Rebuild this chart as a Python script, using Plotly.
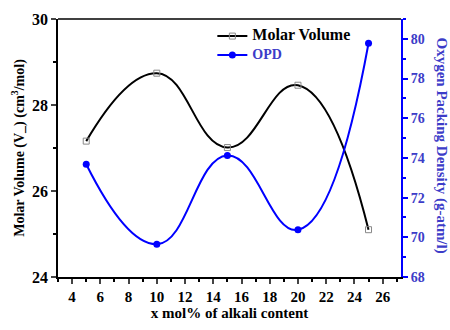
import plotly.graph_objects as go

x_vals = [5, 10, 15, 20, 25]
molar_volume = [27.16, 28.74, 27.01, 28.46, 25.10]
opd = [73.68, 69.65, 74.12, 70.38, 79.78]

x_ticks = list(range(4, 27, 2))
left_ticks = [24, 26, 28, 30]
right_ticks = [68, 70, 72, 74, 76, 78, 80]

FONT = "Liberation Serif"
BLUE = "#0000ff"
BLUE_TXT = "#3c3cc8"


def bold(vals):
    return [f"<b>{v}</b>" for v in vals]


fig = go.Figure()
fig.add_trace(go.Scatter(
    x=x_vals, y=molar_volume,
    name="<b><span style='font-size:16px'>Molar Volume</span></b>",
    mode="lines+markers",
    line=dict(color="black", width=2, shape="spline", smoothing=1.3),
    marker=dict(symbol="square-open", size=6, color="#888888", line=dict(width=1)),
))
fig.add_trace(go.Scatter(
    x=x_vals, y=opd,
    name=f"<b><span style='font-size:14px;color:{BLUE_TXT}'>OPD</span></b>",
    mode="lines+markers", yaxis="y2",
    line=dict(color=BLUE, width=2, shape="spline", smoothing=1.3),
    marker=dict(symbol="circle", size=7, color=BLUE),
))

fig.update_layout(
    width=450, height=330,
    margin=dict(l=58, r=49, t=11, b=53),
    paper_bgcolor="white", plot_bgcolor="white",
    font=dict(family=FONT, size=14, color="black"),
    showlegend=True,
    legend=dict(x=0.45, y=0.99, xanchor="left", yanchor="top",
                bgcolor="rgba(0,0,0,0)", tracegroupgap=0, itemwidth=30,
                font=dict(family=FONT, size=11, color="black")),
    xaxis=dict(range=[3, 27.3], tickmode="array", tickvals=x_ticks, ticktext=bold(x_ticks),
               ticks="outside", ticklen=5,
               tickwidth=1.5, showline=True, linecolor="black", linewidth=1.5,
               mirror=False, showgrid=False, zeroline=False,
               minor=dict(dtick=1, tick0=0, ticks="outside", ticklen=3, tickcolor="black"),
               tickfont=dict(family=FONT, size=15, color="black"),
               title=dict(text="<b>x mol% of alkali content</b>", font=dict(family=FONT, size=15), standoff=4)),
    yaxis=dict(range=[24, 30], tickmode="array", tickvals=left_ticks, ticktext=bold(left_ticks),
               ticks="outside", ticklen=5,
               tickwidth=1.5, showline=True, linecolor="black", linewidth=1.5,
               showgrid=False, zeroline=False,
               minor=dict(dtick=1, tick0=0, ticks="outside", ticklen=3, tickcolor="black"),
               tickfont=dict(family=FONT, size=16, color="black"),
               title=dict(text="<b>Molar Volume (V_) (cm<sup>3</sup>/mol)</b>",
                          font=dict(family=FONT, size=14), standoff=4)),
    yaxis2=dict(range=[68, 81], tickmode="array", tickvals=right_ticks, ticktext=bold(right_ticks),
                overlaying="y", side="right",
                ticks="outside", ticklen=5, tickwidth=1.5, tickcolor=BLUE,
                showline=True, linecolor=BLUE, linewidth=2,
                showgrid=False, zeroline=False,
                minor=dict(dtick=1, tick0=0, ticks="outside", ticklen=3, tickcolor=BLUE),
                tickfont=dict(family=FONT, size=14, color=BLUE_TXT)),
    shapes=[dict(type="line", xref="paper", yref="paper", x0=0, x1=1, y0=1, y1=1,
                 line=dict(color="black", width=1.5))],
    annotations=[dict(text="<b>Oxygen Packing Density (g-atm/l)</b>", textangle=90,
                      xref="paper", yref="paper", x=1.15, y=0.51, showarrow=False,
                      font=dict(family=FONT, size=15, color=BLUE_TXT))],
)

fig.write_html("out.html")
